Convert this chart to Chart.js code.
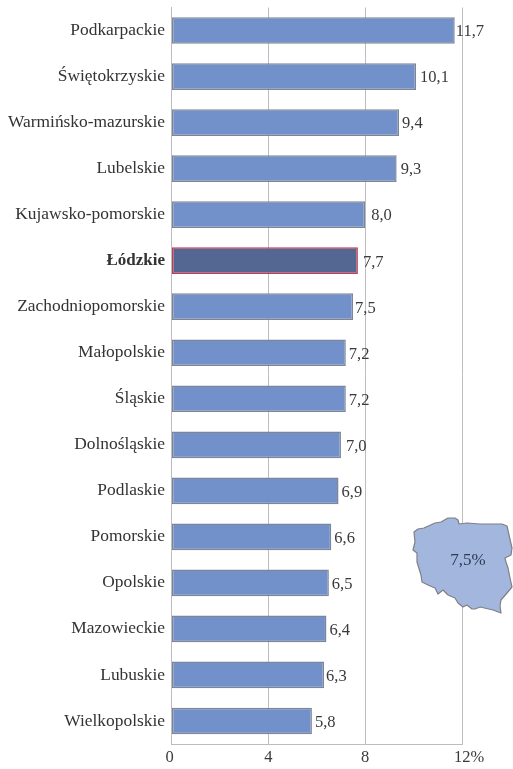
<!DOCTYPE html>
<html>
<head>
<meta charset="utf-8">
<style>html,body{margin:0;padding:0;background:#fff}canvas{display:block}</style>
<script src="https://cdn.jsdelivr.net/npm/chart.js@4"></script>
</head>
<body>
<canvas id="c" width="513" height="769"></canvas>
<script>
const categories = ["Podkarpackie","Świętokrzyskie","Warmińsko-mazurskie","Lubelskie","Kujawsko-pomorskie","Łódzkie","Zachodniopomorskie","Małopolskie","Śląskie","Dolnośląskie","Podlaskie","Pomorskie","Opolskie","Mazowieckie","Lubuskie","Wielkopolskie"];
const values = [11.7,10.1,9.4,9.3,8.0,7.7,7.5,7.2,7.2,7.0,6.9,6.6,6.5,6.4,6.3,5.8];
const labelGaps = [1,4,3,4,6,5,2,3,3,5,3,3,3,3,2,3];
const highlighted = "Łódzkie";
const xTicks = [0,4,8,12];
const xTickLabels = ["0","4","8","12%"];
const xTickShift = [-2,0,0,7];
const nationalLabel = "7,5%";
const FONT = '"Liberation Serif", serif';
const TEXT = '#3a3a3a';

// Outline of the country inset, in pixels of the page
const mapOutline = [[414,532],[418,529],[424,528],[435,523],[441,522],[448,518],[455,518],[458,520],[459,524],[467,523],[480,524],[502,524],[507,526],[509,535],[512,548],[511,555],[505,558],[506,562],[508,568],[510,578],[512,587],[507,593],[501,600],[500,606],[501,613],[493,610],[480,607],[475,609],[472,609],[467,605],[463,607],[458,603],[455,598],[448,595],[443,590],[438,594],[435,588],[428,585],[422,582],[421,575],[417,562],[417,553],[413,550],[415,542]];

const mapPlugin = {
  id: 'mapInset',
  afterDatasetsDraw(chart) {
    const c = chart.ctx;
    c.save();
    c.beginPath();
    mapOutline.forEach((p, i) => i ? c.lineTo(p[0], p[1]) : c.moveTo(p[0], p[1]));
    c.closePath();
    c.fillStyle = '#A3B7DE';
    c.strokeStyle = '#7f7f86';
    c.lineWidth = 1.2;
    c.lineJoin = 'round';
    c.fill();
    c.stroke();
    c.fillStyle = '#2f3a55';
    c.font = '17px ' + FONT;
    c.textAlign = 'center';
    c.textBaseline = 'middle';
    c.fillText(nationalLabel, 468, 561);
    c.restore();
  }
};

const labelPlugin = {
  id: 'valueLabels',
  afterDatasetsDraw(chart) {
    const c = chart.ctx;
    const meta = chart.getDatasetMeta(0);
    c.save();
    c.font = '16.5px ' + FONT;
    c.fillStyle = TEXT;
    c.textAlign = 'left';
    c.textBaseline = 'middle';
    meta.data.forEach((bar, i) => {
      c.fillText(values[i].toFixed(1).replace('.', ','), bar.x + labelGaps[i], bar.y + 1.5);
    });
    const xs = chart.scales.x;
    c.textAlign = 'center';
    xTicks.forEach((t, i) => {
      c.fillText(xTickLabels[i], xs.getPixelForValue(t) + xTickShift[i], 758);
    });
    c.restore();
  }
};

new Chart(document.getElementById('c'), {
  type: 'bar',
  data: {
    labels: categories,
    datasets: [{
      data: values,
      backgroundColor: categories.map(n => n === highlighted ? '#546792' : '#7290C9'),
      borderColor: categories.map(n => n === highlighted ? '#C63A4E' : '#7d8597'),
      borderWidth: 1.5,
      borderSkipped: false,
      barPercentage: 0.58,
      categoryPercentage: 1
    }]
  },
  options: {
    indexAxis: 'y',
    responsive: false,
    animation: false,
    layout: { padding: { top: 7.5, right: 51, bottom: 0, left: 0 } },
    plugins: { legend: { display: false }, tooltip: { enabled: false } },
    scales: {
      x: {
        min: 0, max: 12,
        afterBuildTicks(s) { s.ticks = xTicks.map(v => ({ value: v })); },
        afterFit(s) { s.height = 25; s.paddingLeft = 0; s.paddingRight = 0; },
        grid: { color: '#bdbdbd', lineWidth: 1, drawTicks: false },
        border: { color: '#bdbdbd', width: 1 },
        ticks: { display: false }
      },
      y: {
        afterFit(s) { s.width = 171.5; s.paddingTop = 0; s.paddingBottom = 0; },
        grid: { display: false },
        border: { color: '#bdbdbd', width: 1 },
        ticks: {
          autoSkip: false,
          padding: -1.5,
          color: '#333',
          font: ctx => ({
            family: FONT,
            size: categories[ctx.index] === highlighted ? 17 : 17.4,
            weight: categories[ctx.index] === highlighted ? 'bold' : 'normal'
          })
        }
      }
    }
  },
  plugins: [labelPlugin, mapPlugin]
});
</script>
</body>
</html>
